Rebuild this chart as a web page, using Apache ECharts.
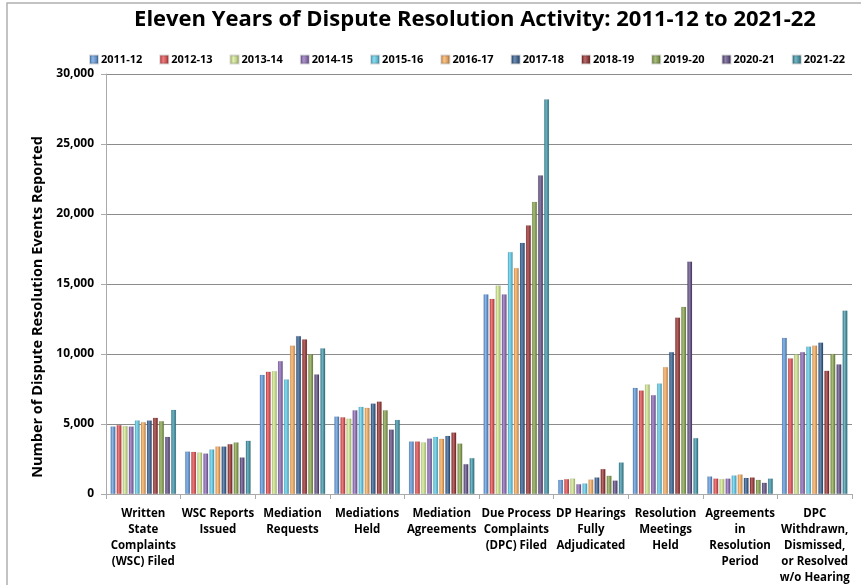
<!DOCTYPE html>
<html>
<head>
<meta charset="utf-8">
<script src="https://cdn.jsdelivr.net/npm/echarts@6/dist/echarts.min.js"></script>
<style>
  html, body { margin: 0; padding: 0; background: #fff; }
  #chart { width: 861px; height: 585px; }
</style>
</head>
<body>
<div id="chart"></div>
<script>
var categories = [
    'Written\nState\nComplaints\n(WSC) Filed',
    'WSC Reports\nIssued',
    'Mediation\nRequests',
    'Mediations\nHeld',
    'Mediation\nAgreements',
    'Due Process\nComplaints\n(DPC) Filed',
    'DP Hearings\nFully\nAdjudicated',
    'Resolution\nMeetings\nHeld',
    'Agreements\nin\nResolution\nPeriod',
    'DPC\nWithdrawn,\nDismissed,\nor Resolved\nw/o Hearing'
];

var years = ['2011-12', '2012-13', '2013-14', '2014-15', '2015-16', '2016-17',
    '2017-18', '2018-19', '2019-20', '2020-21', '2021-22'];

var yTicks = [0, 5000, 10000, 15000, 20000, 25000, 30000];

// one array per year, values in category order
var v2011 = [4830, 3040, 8520, 5540, 3760, 14260, 1020, 7590, 1260, 11160];
var v2012 = [4930, 3020, 8740, 5490, 3760, 13950, 1070, 7400, 1110, 9690];
var v2013 = [4860, 2970, 8780, 5390, 3690, 14900, 1110, 7830, 1070, 9990];
var v2014 = [4830, 2900, 9500, 5990, 3970, 14260, 710, 7070, 1110, 10140];
var v2015 = [5260, 3190, 8190, 6230, 4090, 17290, 760, 7900, 1330, 10540];
var v2016 = [5140, 3400, 10600, 6160, 3950, 16140, 1040, 9070, 1400, 10610];
var v2017 = [5260, 3400, 11290, 6470, 4160, 17950, 1190, 10140, 1160, 10830];
var v2018 = [5450, 3570, 11050, 6610, 4400, 19190, 1790, 12610, 1190, 8810];
var v2019 = [5210, 3690, 9980, 5990, 3610, 20880, 1310, 13380, 1020, 10020];
var v2020 = [4090, 2620, 8550, 4610, 2140, 22760, 970, 16610, 810, 9260];
var v2021 = [6020, 3810, 10410, 5300, 2570, 28190, 2260, 4000, 1110, 13110];

var seriesValues = [v2011, v2012, v2013, v2014, v2015, v2016, v2017, v2018, v2019, v2020, v2021];

var colors = ['#4f8fd8', '#e0393b', '#cde682', '#7f5aae', '#4cc7e8', '#f7a34a',
    '#1f4e86', '#8e1b1b', '#7a9a3a', '#503c78', '#2a8aa0'];

function shade(hex, amt) {
    var n = parseInt(hex.slice(1), 16);
    var r = (n >> 16) & 255, g = (n >> 8) & 255, b = n & 255;
    function f(c) { return Math.max(0, Math.min(255, Math.round(c + (amt > 0 ? (255 - c) * amt : c * amt)))); }
    return 'rgb(' + f(r) + ',' + f(g) + ',' + f(b) + ')';
}

var chart = echarts.init(document.getElementById('chart'));

var series = years.map(function (y, i) {
    var c = colors[i];
    return {
        name: y,
        type: 'bar',
        data: seriesValues[i],
        barGap: '20%',
        barCategoryGap: '12%',
        itemStyle: {
            color: new echarts.graphic.LinearGradient(0, 0, 1, 0, [
                { offset: 0, color: shade(c, -0.15) },
                { offset: 0.4, color: shade(c, 0.35) },
                { offset: 1, color: shade(c, -0.25) }
            ]),
            borderColor: 'rgba(0,0,0,0.15)',
            borderWidth: 0.5
        }
    };
});

chart.setOption({
    color: colors,
    animation: false,
    textStyle: {
        fontFamily: 'Open Sans, sans-serif'
    },
    title: {
        text: 'Eleven Years of Dispute Resolution Activity: 2011-12 to 2021-22',
        left: 470,
        textAlign: 'center',
        top: 4,
        textStyle: {
            fontSize: 22,
            fontWeight: 'bold',
            color: '#000'
        }
    },
    legend: {
        data: years,
        top: 49,
        left: 84,
        itemWidth: 8,
        itemHeight: 8,
        itemGap: 17,
        icon: 'rect',
        textStyle: {
            fontSize: 11,
            fontWeight: 'bold',
            color: '#000',
            padding: [0, 0, 0, -2]
        }
    },
    graphic: [{
        type: 'rect',
        shape: { x: 7, y: 3, width: 900, height: 600 },
        style: { fill: 'none', stroke: '#b0b0b0', lineWidth: 1.5 }
    }],
    grid: {
        left: 106,
        right: 9,
        top: 74,
        bottom: 91,
        outerBoundsMode: 'none'
    },
    xAxis: {
        type: 'category',
        data: categories,
        axisLine: { lineStyle: { color: '#aaa' } },
        axisTick: { show: true, length: 5, lineStyle: { color: '#aaa' } },
        axisLabel: {
            interval: 0,
            fontSize: 11.5,
            fontWeight: 'bold',
            color: '#000',
            lineHeight: 16,
            margin: 12
        }
    },
    yAxis: {
        type: 'value',
        min: yTicks[0],
        max: yTicks[yTicks.length - 1],
        interval: 5000,
        name: 'Number of Dispute Resolution Events Reported',
        nameLocation: 'middle',
        nameGap: 60,
        nameTextStyle: {
            fontSize: 14.5,
            fontWeight: 'bold',
            color: '#000',
            padding: [0, 46, 0, 0]
        },
        axisLine: { show: true, lineStyle: { color: '#aaa' } },
        axisTick: { show: true, length: 5, lineStyle: { color: '#aaa' } },
        splitLine: { lineStyle: { color: '#8c8c8c', width: 1 } },
        axisLabel: {
            fontSize: 12,
            fontWeight: 'bold',
            color: '#000',
            margin: 12,
            formatter: function (v) { return v.toLocaleString('en-US'); }
        }
    },
    series: series
});
</script>
</body>
</html>
